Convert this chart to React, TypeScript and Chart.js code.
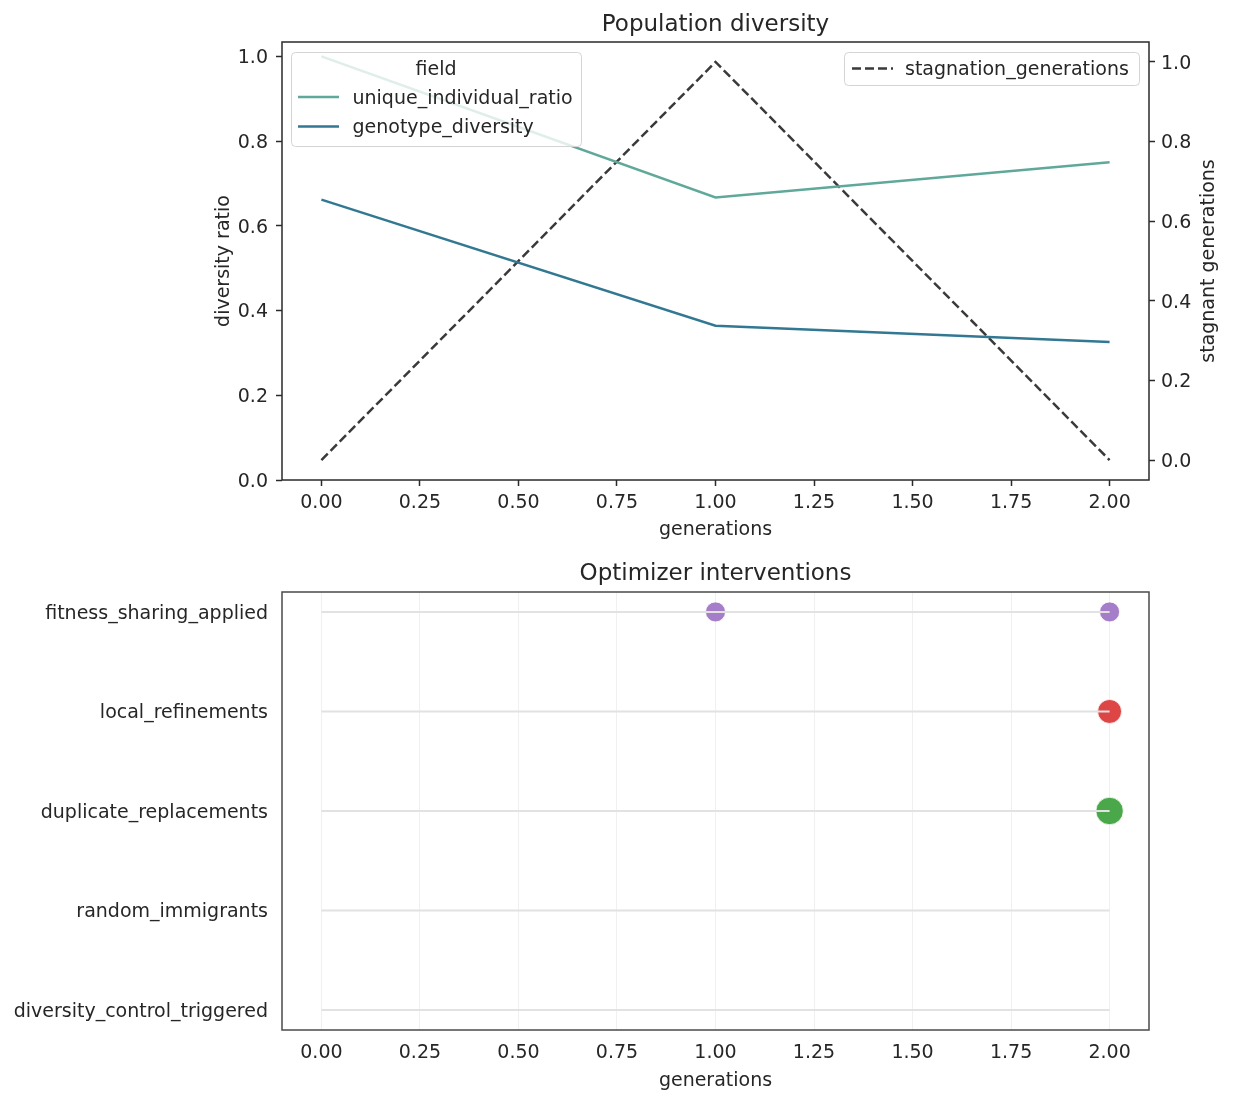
import React, { useEffect, useRef } from "react";
import { Chart, registerables } from "chart.js";

Chart.register(...registerables);

// ---------- data ----------
const generations = [0, 1, 2];
const uniqueIndividualRatio = [1.0, 0.667, 0.75];
const genotypeDiversity = [0.662, 0.364, 0.326];
const stagnationGenerations = [0, 1, 0];

const xTickValues = [0, 0.25, 0.5, 0.75, 1, 1.25, 1.5, 1.75, 2];
const leftTickValues = [0, 0.2, 0.4, 0.6, 0.8, 1.0];
const rightTickValues = [0, 0.2, 0.4, 0.6, 0.8, 1.0];

// bottom -> top order on the categorical axis
const interventionFields = [
  "diversity_control_triggered",
  "random_immigrants",
  "duplicate_replacements",
  "local_refinements",
  "fitness_sharing_applied",
];
const eventField = [
  "fitness_sharing_applied",
  "fitness_sharing_applied",
  "local_refinements",
  "duplicate_replacements",
];
const eventGeneration = [1, 2, 2, 2];
const eventCount = [1, 1, 2, 3];

// ---------- styles ----------
const FONT = "'DejaVu Sans', sans-serif";
const TEXT = "#262626";
const FS = 19;
const TITLE_FS = 23;
const TEAL_LIGHT = "#5fa89a";
const TEAL_DARK = "#327892";
const DASH_COLOR = "#3a3a3a";
const FIELD_COLORS: Record<string, string> = {
  fitness_sharing_applied: "#a67dc8",
  local_refinements: "#de4646",
  duplicate_replacements: "#4aa84a",
  random_immigrants: "#4c72b0",
  diversity_control_triggered: "#dd8452",
};

Chart.defaults.font.family = FONT;
Chart.defaults.color = TEXT;

const W = 1233;
const H1 = 550;
const H2 = 554;
const DY = 2; // vertical text nudge

function markerRadius(count: number) {
  return Math.sqrt(100 + 44 * (count - 1));
}

function setTicks(values: number[]) {
  return (scale: any) => {
    scale.ticks = values.map((v) => ({ value: v }));
  };
}

function legendBox(ctx: CanvasRenderingContext2D, x: number, y: number, w: number, h: number) {
  ctx.save();
  ctx.beginPath();
  (ctx as any).roundRect(x + 0.5, y + 0.5, w, h, 4);
  ctx.fillStyle = "rgba(255,255,255,0.8)";
  ctx.fill();
  ctx.strokeStyle = "#d4d4d4";
  ctx.lineWidth = 1;
  ctx.stroke();
  ctx.restore();
}

function legendLine(ctx: CanvasRenderingContext2D, x1: number, x2: number, y: number, color: string, dash: number[]) {
  ctx.save();
  ctx.strokeStyle = color;
  ctx.lineWidth = 2.5;
  ctx.setLineDash(dash);
  ctx.beginPath();
  ctx.moveTo(x1, y);
  ctx.lineTo(x2, y);
  ctx.stroke();
  ctx.restore();
}

function text(ctx: CanvasRenderingContext2D, s: string, x: number, y: number, align: CanvasTextAlign, size = FS) {
  ctx.save();
  ctx.fillStyle = TEXT;
  ctx.font = `${size}px ${FONT}`;
  ctx.textAlign = align;
  ctx.textBaseline = "middle";
  ctx.fillText(s, x, y);
  ctx.restore();
}

const topDecor = {
  id: "topDecor",
  afterDraw(chart: any) {
    const ctx: CanvasRenderingContext2D = chart.ctx;
    const a = chart.chartArea;
    // legends
    legendBox(ctx, 291, 52, 290, 94);
    text(ctx, "field", 436, 68.5 + DY, "center");
    legendLine(ctx, 298, 339, 97, TEAL_LIGHT, []);
    text(ctx, "unique_individual_ratio", 352.5, 97 + DY, "left");
    legendLine(ctx, 298, 339, 126.5, TEAL_DARK, []);
    text(ctx, "genotype_diversity", 352.5, 126.5 + DY, "left");

    legendBox(ctx, 844, 52, 295, 33);
    legendLine(ctx, 852, 893, 68.5, DASH_COLOR, [9, 4]);
    text(ctx, "stagnation_generations", 905, 68.5 + DY, "left");

    // frame
    ctx.save();
    ctx.strokeStyle = "#2a2a2a";
    ctx.lineWidth = 1.5;
    ctx.strokeRect(a.left, a.top, a.right - a.left, a.bottom - a.top);
    ctx.restore();

    // title
    text(ctx, "Population diversity", (a.left + a.right) / 2, 23.5 + DY, "center", TITLE_FS);

    // right axis title (reads bottom to top)
    ctx.save();
    ctx.translate(1209, (a.top + a.bottom) / 2);
    ctx.rotate(-Math.PI / 2);
    text(ctx, "stagnant generations", 0, 0, "center");
    ctx.restore();
  },
};

const bottomDecor = {
  id: "bottomDecor",
  afterDraw(chart: any) {
    const ctx: CanvasRenderingContext2D = chart.ctx;
    const a = chart.chartArea;
    ctx.save();
    ctx.strokeStyle = "#4a4a4a";
    ctx.lineWidth = 1.5;
    ctx.strokeRect(a.left, a.top, a.right - a.left, a.bottom - a.top);
    ctx.restore();
    text(ctx, "Optimizer interventions", (a.left + a.right) / 2, 22.5 + DY, "center", TITLE_FS);
  },
};

const tickFont = { size: FS, family: FONT };

function topConfig(): any {
  const pts = (ys: number[]) => generations.map((g, i) => ({ x: g, y: ys[i] }));
  return {
    type: "line",
    data: {
      datasets: [
        {
          label: "unique_individual_ratio",
          data: pts(uniqueIndividualRatio),
          borderColor: TEAL_LIGHT,
          borderWidth: 2.5,
          pointRadius: 0,
          yAxisID: "y",
        },
        {
          label: "genotype_diversity",
          data: pts(genotypeDiversity),
          borderColor: TEAL_DARK,
          borderWidth: 2.5,
          pointRadius: 0,
          yAxisID: "y",
        },
        {
          label: "stagnation_generations",
          data: pts(stagnationGenerations),
          borderColor: DASH_COLOR,
          borderWidth: 2.5,
          borderDash: [9, 4],
          pointRadius: 0,
          yAxisID: "y2",
        },
      ],
    },
    options: {
      responsive: false,
      animation: false,
      layout: { padding: { top: 42, left: 200, right: 0, bottom: 0 } },
      plugins: { legend: { display: false }, tooltip: { enabled: false }, title: { display: false } },
      scales: {
        x: {
          type: "linear",
          min: -0.1,
          max: 2.1,
          afterBuildTicks: setTicks(xTickValues),
          afterFit: (s: any) => { s.height = H1 - 480; },
          ticks: { callback: (v: any) => Number(v).toFixed(2), padding: 4 + DY, font: tickFont, color: TEXT, maxRotation: 0, autoSkip: false },
          grid: { drawOnChartArea: false, drawTicks: true, tickLength: 6, tickColor: "#2a2a2a", tickWidth: 1.5 },
          border: { display: false },
          title: { display: true, text: "generations", font: tickFont, color: TEXT, padding: { top: 0, bottom: 11 - DY } },
        },
        y: {
          type: "linear",
          position: "left",
          min: 0,
          max: 1.034,
          afterBuildTicks: setTicks(leftTickValues),
          afterFit: (s: any) => { s.width = 82; },
          ticks: { callback: (v: any) => Number(v).toFixed(1), padding: 8, labelOffset: DY, font: tickFont, color: TEXT, autoSkip: false },
          grid: { drawOnChartArea: false, drawTicks: true, tickLength: 6, tickColor: "#2a2a2a", tickWidth: 1.5 },
          border: { display: false },
          title: { display: true, text: "diversity ratio", font: tickFont, color: TEXT, padding: { top: 13, bottom: 0 } },
        },
        y2: {
          type: "linear",
          position: "right",
          min: -0.05,
          max: 1.05,
          afterBuildTicks: setTicks(rightTickValues),
          afterFit: (s: any) => { s.width = W - 1149; },
          ticks: { callback: (v: any) => Number(v).toFixed(1), padding: 6, labelOffset: DY, font: tickFont, color: TEXT, autoSkip: false },
          grid: { drawOnChartArea: false, drawTicks: true, tickLength: 6, tickColor: "#2a2a2a", tickWidth: 1.5 },
          border: { display: false },
          title: { display: false },
        },
      },
    },
    plugins: [topDecor],
  };
}

function bottomConfig(): any {
  const lineSets = interventionFields.map((f, i) => ({
    type: "line",
    label: f + "_track",
    data: [
      { x: generations[0], y: i },
      { x: generations[generations.length - 1], y: i },
    ],
    borderColor: "#e2e2e2",
    borderWidth: 2,
    pointRadius: 0,
    showLine: true,
    order: 0,
  }));
  const pointSets = interventionFields
    .map((f) => {
      const data = eventField
        .map((ef, k) => (ef === f ? { x: eventGeneration[k], y: interventionFields.indexOf(f), count: eventCount[k] } : null))
        .filter((d) => d !== null);
      return {
        type: "scatter",
        label: f,
        data,
        backgroundColor: FIELD_COLORS[f],
        borderColor: "#ffffff",
        borderWidth: 0.8,
        pointRadius: (c: any) => markerRadius(c.raw ? c.raw.count : 1),
        order: 1,
      };
    })
    .filter((d) => d.data.length > 0);

  return {
    type: "scatter",
    data: { datasets: [...lineSets, ...pointSets] },
    options: {
      responsive: false,
      animation: false,
      layout: { padding: { top: 42, left: 0, right: 84, bottom: 0 } },
      plugins: { legend: { display: false }, tooltip: { enabled: false }, title: { display: false } },
      scales: {
        x: {
          type: "linear",
          min: -0.1,
          max: 2.1,
          afterBuildTicks: setTicks(xTickValues),
          afterFit: (s: any) => { s.height = H2 - 480; },
          ticks: { callback: (v: any) => Number(v).toFixed(2), padding: 10 + DY, font: tickFont, color: TEXT, maxRotation: 0, autoSkip: false },
          grid: { display: true, drawOnChartArea: true, drawTicks: false, color: "#f0f0f0", lineWidth: 1 },
          border: { display: false },
          title: { display: true, text: "generations", font: tickFont, color: TEXT, padding: { top: 0, bottom: 14 - DY } },
        },
        y: {
          type: "linear",
          position: "left",
          min: -0.2,
          max: 4.2,
          afterBuildTicks: setTicks(interventionFields.map((_, i) => i)),
          afterFit: (s: any) => { s.width = 282; },
          ticks: { callback: (v: any) => interventionFields[Math.round(Number(v))], padding: 14, labelOffset: DY, font: tickFont, color: TEXT, autoSkip: false },
          grid: { display: false, drawTicks: false },
          border: { display: false },
        },
      },
    },
    plugins: [bottomDecor],
  };
}

export default function App() {
  const topRef = useRef<HTMLCanvasElement>(null);
  const botRef = useRef<HTMLCanvasElement>(null);
  useEffect(() => {
    const c1 = new Chart(topRef.current as HTMLCanvasElement, topConfig());
    const c2 = new Chart(botRef.current as HTMLCanvasElement, bottomConfig());
    return () => {
      c1.destroy();
      c2.destroy();
    };
  }, []);
  return (
    <div style={{ position: "absolute", left: 0, top: 0, width: W, height: H1 + H2, background: "#ffffff" }}>
      <canvas ref={topRef} width={W} height={H1} style={{ display: "block", width: W, height: H1 }} />
      <canvas ref={botRef} width={W} height={H2} style={{ display: "block", width: W, height: H2 }} />
    </div>
  );
}
